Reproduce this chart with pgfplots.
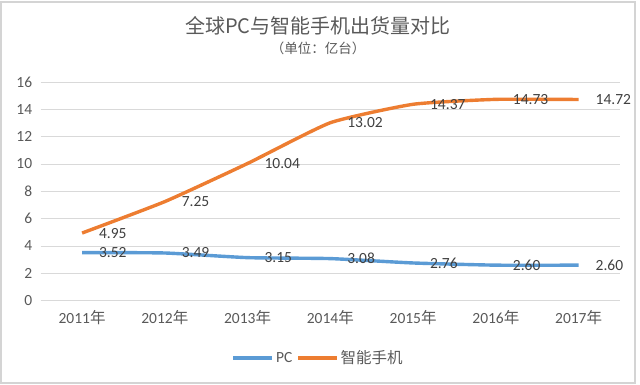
\documentclass[border=0pt]{standalone}
\usepackage{pgfplots}
\pgfplotsset{compat=1.18}
\usepackage{fontspec}
\setmainfont{Carlito}
\newfontfamily\cjk{Noto Sans CJK SC}
\definecolor{pcblue}{HTML}{5B9BD5}
\definecolor{phorange}{HTML}{ED7D31}
\definecolor{gridgray}{HTML}{D9D9D9}
\definecolor{txtgray}{HTML}{595959}
\definecolor{lblgray}{HTML}{404040}
\definecolor{framegray}{HTML}{D4D4D4}
\begin{document}
\begin{tikzpicture}[x=1pt,y=1pt]
\path (0,0) rectangle (640,385);
\draw[framegray, line width=2pt] (1,2) rectangle (635,383);
\node[txtgray, font=\cjk\fontsize{20}{24}\selectfont] at (318,359) {全球PC与智能手机出货量对比};
\node[txtgray, font=\cjk\fontsize{13.5}{16}\selectfont] at (318,337) {（单位：亿台）};
\begin{axis}[
  at={(40.7pt,84.3pt)}, anchor=south west,
  scale only axis, width=579.3pt, height=218.7pt,
  xmin=-0.5, xmax=6.5, ymin=0, ymax=16,
  xtick={0,...,6},
  xticklabels={2011{\cjk 年},2012{\cjk 年},2013{\cjk 年},2014{\cjk 年},2015{\cjk 年},2016{\cjk 年},2017{\cjk 年}},
  ytick={0,2,...,16},
  ymajorgrids, grid style={gridgray, line width=0.9pt},
  axis line style={draw=none}, major tick length=0pt,
  /pgf/number format/assume math mode=true,
  tick label style={text=txtgray, font=\fontsize{15.5}{18}\selectfont},
  yticklabel style={xshift=-5pt},
  xticklabel style={yshift=-6pt},
  clip=false,
  nodes near coords={\pgfmathprintnumber[fixed,fixed zerofill,precision=2]{\pgfplotspointmeta}},
  nodes near coords style={anchor=west, xshift=12pt, text=lblgray, font=\fontsize{15.5}{18}\selectfont},
  legend style={at={(0.479,-0.262)}, anchor=center, draw=none, fill=none,
    legend columns=-1, font=\fontsize{15.5}{18}\selectfont, text=txtgray,
    /tikz/every even column/.append style={column sep=2pt},
    inner sep=0pt},
  legend image code/.code={\draw[#1] (0pt,0pt) -- (39pt,0pt);},
]
\addplot[pcblue, line width=3.4pt, smooth, tension=0.3, line join=round] coordinates {
  (0,3.52) (1,3.49) (2,3.15) (3,3.08) (4,2.76) (5,2.60) (6,2.60)};
\addlegendentry{PC}
\addplot[phorange, line width=3.4pt, smooth, tension=0.3, line join=round] coordinates {
  (0,4.95) (1,7.25) (2,10.04) (3,13.02) (4,14.37) (5,14.73) (6,14.72)};
\addlegendentry{{\cjk 智能手机}}
\end{axis}
\end{tikzpicture}
\end{document}
